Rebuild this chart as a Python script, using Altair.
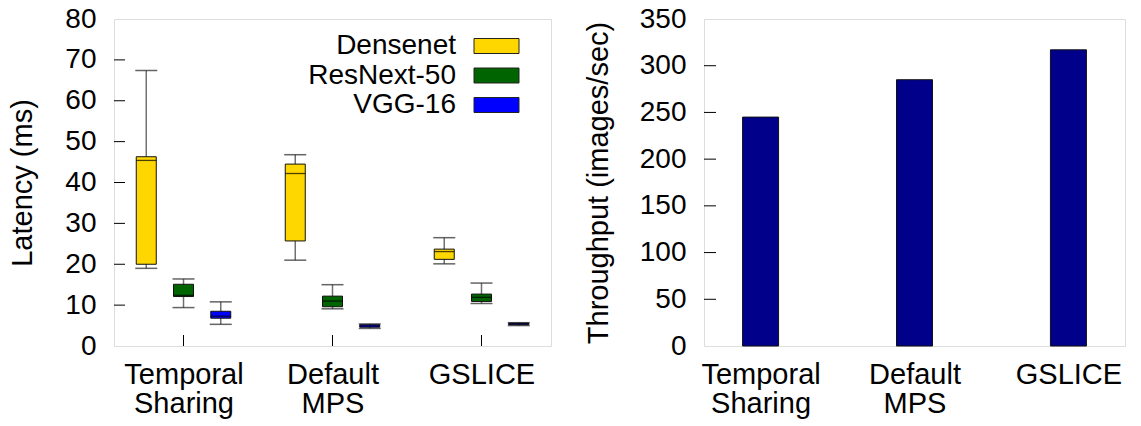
import json
import altair as alt
import pandas as pd

# ---- data ---------------------------------------------------------------
categories = ["Temporal Sharing", "Default MPS", "GSLICE"]
series = ["Densenet", "ResNext-50", "VGG-16"]
series_colors = ["#FFD700", "#006400", "#0000FF"]

# latency box stats per category: [low whisker, q1, median, q3, high whisker]
densenet_ms = [[19.0, 20.0, 45.4, 46.3, 67.4],
               [21.0, 25.7, 42.2, 44.5, 46.8],
               [20.1, 21.2, 23.1, 23.7, 26.5]]
resnext_ms = [[9.4, 12.1, 12.4, 15.1, 16.4],
              [9.1, 9.6, 11.0, 12.2, 15.0],
              [10.4, 10.9, 11.9, 12.7, 15.4]]
vgg_ms = [[5.3, 6.8, 7.3, 8.5, 10.8],
          [4.3, 4.6, 4.9, 5.2, 5.4],
          [5.0, 5.2, 5.4, 5.6, 5.7]]

throughput = [245, 285, 317]  # images/sec

latency_ticks = [0, 10, 20, 30, 40, 50, 60, 70, 80]
throughput_ticks = [0, 50, 100, 150, 200, 250, 300, 350]

# ---- tables ---------------------------------------------------------------
rows = []
for name, stats in zip(series, [densenet_ms, resnext_ms, vgg_ms]):
    for i, (lo, q1, med, q3, hi) in enumerate(stats):
        rows.append(dict(series=name, idx=i, lo=lo, q1=q1, med=med, q3=q3, hi=hi))
box_df = pd.DataFrame(rows)
bar_df = pd.DataFrame({"idx": list(range(len(categories))), "value": throughput})
cat_df = pd.DataFrame({"idx": list(range(len(categories)))})
legend_df = pd.DataFrame({"series": series})

FONT = "Liberation Sans"
FS = 29
label_lines = json.dumps([c.split(" ") for c in categories])
x_label_expr = f"{label_lines}[datum.value]"

color = alt.Color("series:N", scale=alt.Scale(domain=series, range=series_colors), legend=None)


def x_axis():
    return alt.Axis(values=list(range(len(categories))), labelExpr=x_label_expr,
                    title=None, grid=False, ticks=False, domain=False,
                    labelFont=FONT, labelFontSize=FS, labelColor="black",
                    labelPadding=14, labelLineHeight=29, labelOverlap=False,
                    labelFlush=False)


def y_axis(title, values, pad, tpad):
    return alt.Axis(values=values, title=title, grid=False, ticks=False, domain=False,
                    labelFont=FONT, labelFontSize=28, labelColor="black",
                    labelPadding=pad, titleFont=FONT, titleFontSize=FS,
                    titleFontWeight="normal", titleColor="black", titlePadding=tpad)


# ---- left panel: latency box plots ---------------------------------------
LW, LH = 437, 327
lx = alt.Scale(domain=[-0.433, 2.433], nice=False, zero=False)
ly = alt.Scale(domain=[0, 80], nice=False)
xpos = alt.X("xpos:Q", scale=lx, axis=x_axis())

box_base = alt.Chart(box_df).transform_calculate(
    xpos=f"datum.idx + (indexof({json.dumps(series)}, datum.series) - 1) * 0.25"
)

whisker = box_base.mark_rule(color="#707070", strokeWidth=1.5).encode(
    x=xpos, y=alt.Y("lo:Q", scale=ly, axis=y_axis("Latency (ms)", latency_ticks, 18, 27)),
    y2="hi:Q")
cap_hi = box_base.mark_tick(orient="horizontal", size=22, thickness=1.5, color="#222").encode(
    x=xpos, y=alt.Y("hi:Q", scale=ly))
cap_lo = box_base.mark_tick(orient="horizontal", size=22, thickness=1.5, color="#222").encode(
    x=xpos, y=alt.Y("lo:Q", scale=ly))
box = box_base.mark_bar(size=20, stroke="#111", strokeWidth=1).encode(
    x=xpos, y=alt.Y("q1:Q", scale=ly), y2="q3:Q", color=color)
median = box_base.mark_tick(orient="horizontal", size=20, thickness=1.3, color="black").encode(
    x=xpos, y=alt.Y("med:Q", scale=ly))

ytick_l = alt.Chart(pd.DataFrame({"v": latency_ticks[1:-1]})).mark_rule(
    color="black", strokeWidth=1).encode(
    y=alt.Y("v:Q", scale=ly), x=alt.value(0), x2=alt.value(11))
xtick_l = alt.Chart(cat_df).mark_rule(color="black", strokeWidth=1).encode(
    x=alt.X("idx:Q", scale=lx), y=alt.value(LH), y2=alt.value(LH - 11))

legend_y = alt.Y("series:N",
                 scale=alt.Scale(type="point", domain=series, range=[27, 86], padding=0),
                 axis=None)
legend_swatch = alt.Chart(legend_df).mark_tick(
    orient="horizontal", size=45, thickness=15, stroke="#222", strokeWidth=1, opacity=1
).encode(x=alt.value(382.5), y=legend_y, color=color)
legend_text = alt.Chart(legend_df).mark_text(
    align="right", baseline="middle", font=FONT, fontSize=28, color="black"
).encode(x=alt.value(342), y=legend_y, text="series:N")

left = alt.layer(
    alt.layer(whisker, cap_hi, cap_lo, box, median, ytick_l, xtick_l),
    alt.layer(legend_swatch, legend_text),
).resolve_scale(y="independent").properties(width=LW, height=LH)

# ---- right panel: throughput bars ----------------------------------------
RW, RH = 421, 327
rx = alt.Scale(domain=[-0.335, 2.335], nice=False, zero=False)
ry = alt.Scale(domain=[0, 350], nice=False)

bars = alt.Chart(bar_df).mark_bar(size=36, color="#00008B", stroke="#111", strokeWidth=1).encode(
    x=alt.X("idx:Q", scale=rx, axis=x_axis()),
    y=alt.Y("value:Q", scale=ry,
            axis=y_axis("Throughput (images/sec)", throughput_ticks, 18, 26)))
ytick_r = alt.Chart(pd.DataFrame({"v": throughput_ticks[1:-1]})).mark_rule(
    color="black", strokeWidth=1).encode(
    y=alt.Y("v:Q", scale=ry), x=alt.value(0), x2=alt.value(12))

right = alt.layer(bars, ytick_r).properties(width=RW, height=RH)

chart = alt.hconcat(left, right, spacing=31).properties(
    padding={"left": 8, "top": 4, "right": 5, "bottom": 0}
).configure_view(stroke="black", strokeWidth=1.5).configure(background="white")

chart.save("out.html", embed_options={"renderer": "svg", "actions": False})
